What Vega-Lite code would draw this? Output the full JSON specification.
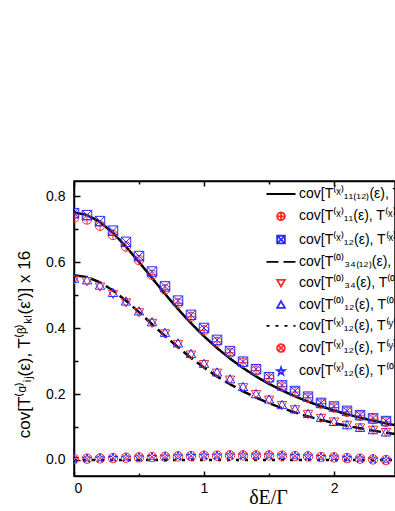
{
  "$schema": "https://vega.github.io/schema/vega-lite/v6.json",
  "width": 321,
  "height": 295,
  "autosize": {"type": "none"},
  "padding": {"left": 74, "top": 181, "right": 0, "bottom": 35},
  "background": "white",
  "config": {
    "font": "Liberation Sans",
    "view": {"stroke": "black", "strokeWidth": 1.5},
    "axis": {"grid": false, "domainColor": "black", "domainWidth": 1.5, "tickColor": "black", "tickWidth": 1.5, "labelColor": "black", "labelFont": "Liberation Sans", "labelFontSize": 14, "titleColor": "black", "titleFontWeight": "normal"},
    "legend": {"orient": "none", "legendX": 192, "legendY": 6, "padding": 0, "labelFont": "Liberation Sans", "labelFontSize": 14, "labelColor": "black", "labelLimit": 0, "symbolSize": 60, "symbolStrokeWidth": 1.8, "rowPadding": 7.3, "labelOffset": 11, "symbolOffset": 8}
  },
  "datasets": {
    "lines": [
      {"k": "a", "x": 0, "y": 0.75}, {"k": "a", "x": 0.1, "y": 0.7426}, {"k": "a", "x": 0.2, "y": 0.7212}, {"k": "a", "x": 0.3, "y": 0.6881}, {"k": "a", "x": 0.4, "y": 0.6466}, {"k": "a", "x": 0.5, "y": 0.6}, {"k": "a", "x": 0.6, "y": 0.5515}, {"k": "a", "x": 0.7, "y": 0.5034}, {"k": "a", "x": 0.8, "y": 0.4573}, {"k": "a", "x": 0.9, "y": 0.4144}, {"k": "a", "x": 1.0, "y": 0.375}, {"k": "a", "x": 1.1, "y": 0.3394}, {"k": "a", "x": 1.2, "y": 0.3074}, {"k": "a", "x": 1.3, "y": 0.2788}, {"k": "a", "x": 1.4, "y": 0.2534}, {"k": "a", "x": 1.5, "y": 0.2308}, {"k": "a", "x": 1.6, "y": 0.2107}, {"k": "a", "x": 1.7, "y": 0.1928}, {"k": "a", "x": 1.8, "y": 0.1769}, {"k": "a", "x": 1.9, "y": 0.1627}, {"k": "a", "x": 2.0, "y": 0.15}, {"k": "a", "x": 2.1, "y": 0.1386}, {"k": "a", "x": 2.2, "y": 0.1284}, {"k": "a", "x": 2.3, "y": 0.1192}, {"k": "a", "x": 2.4, "y": 0.1109}, {"k": "a", "x": 2.5, "y": 0.1034},
      {"k": "d", "x": 0, "y": 0.56}, {"k": "d", "x": 0.1, "y": 0.5545}, {"k": "d", "x": 0.2, "y": 0.5385}, {"k": "d", "x": 0.3, "y": 0.5138}, {"k": "d", "x": 0.4, "y": 0.4828}, {"k": "d", "x": 0.5, "y": 0.448}, {"k": "d", "x": 0.6, "y": 0.4118}, {"k": "d", "x": 0.7, "y": 0.3758}, {"k": "d", "x": 0.8, "y": 0.3415}, {"k": "d", "x": 0.9, "y": 0.3094}, {"k": "d", "x": 1.0, "y": 0.28}, {"k": "d", "x": 1.1, "y": 0.2534}, {"k": "d", "x": 1.2, "y": 0.2295}, {"k": "d", "x": 1.3, "y": 0.2082}, {"k": "d", "x": 1.4, "y": 0.1892}, {"k": "d", "x": 1.5, "y": 0.1723}, {"k": "d", "x": 1.6, "y": 0.1573}, {"k": "d", "x": 1.7, "y": 0.144}, {"k": "d", "x": 1.8, "y": 0.1321}, {"k": "d", "x": 1.9, "y": 0.1215}, {"k": "d", "x": 2.0, "y": 0.112}, {"k": "d", "x": 2.1, "y": 0.1035}, {"k": "d", "x": 2.2, "y": 0.0959}, {"k": "d", "x": 2.3, "y": 0.089}, {"k": "d", "x": 2.4, "y": 0.0828}, {"k": "d", "x": 2.5, "y": 0.0772},
      {"k": "g", "x": 0, "y": 0.0}, {"k": "g", "x": 1.0, "y": 0.0}, {"k": "g", "x": 2.0, "y": 0.0}, {"k": "g", "x": 2.5, "y": 0.0}
    ],
    "pts": [
      {"k": "b", "x": 0, "y": 0.734}, {"k": "b", "x": 0.1, "y": 0.729}, {"k": "b", "x": 0.2, "y": 0.71}, {"k": "b", "x": 0.3, "y": 0.682}, {"k": "b", "x": 0.4, "y": 0.647}, {"k": "b", "x": 0.5, "y": 0.606}, {"k": "b", "x": 0.6, "y": 0.561}, {"k": "b", "x": 0.7, "y": 0.517}, {"k": "b", "x": 0.8, "y": 0.475}, {"k": "b", "x": 0.9, "y": 0.434}, {"k": "b", "x": 1.0, "y": 0.393}, {"k": "b", "x": 1.1, "y": 0.358}, {"k": "b", "x": 1.2, "y": 0.325}, {"k": "b", "x": 1.3, "y": 0.295}, {"k": "b", "x": 1.4, "y": 0.271}, {"k": "b", "x": 1.5, "y": 0.247}, {"k": "b", "x": 1.6, "y": 0.223}, {"k": "b", "x": 1.7, "y": 0.206}, {"k": "b", "x": 1.8, "y": 0.189}, {"k": "b", "x": 1.9, "y": 0.171}, {"k": "b", "x": 2.0, "y": 0.159}, {"k": "b", "x": 2.1, "y": 0.146}, {"k": "b", "x": 2.2, "y": 0.134}, {"k": "b", "x": 2.3, "y": 0.124}, {"k": "b", "x": 2.4, "y": 0.116},
      {"k": "c", "x": 0, "y": 0.748}, {"k": "c", "x": 0.1, "y": 0.742}, {"k": "c", "x": 0.2, "y": 0.724}, {"k": "c", "x": 0.3, "y": 0.695}, {"k": "c", "x": 0.4, "y": 0.661}, {"k": "c", "x": 0.5, "y": 0.618}, {"k": "c", "x": 0.6, "y": 0.571}, {"k": "c", "x": 0.7, "y": 0.526}, {"k": "c", "x": 0.8, "y": 0.483}, {"k": "c", "x": 0.9, "y": 0.44}, {"k": "c", "x": 1.0, "y": 0.4}, {"k": "c", "x": 1.1, "y": 0.364}, {"k": "c", "x": 1.2, "y": 0.33}, {"k": "c", "x": 1.3, "y": 0.298}, {"k": "c", "x": 1.4, "y": 0.275}, {"k": "c", "x": 1.5, "y": 0.251}, {"k": "c", "x": 1.6, "y": 0.226}, {"k": "c", "x": 1.7, "y": 0.209}, {"k": "c", "x": 1.8, "y": 0.192}, {"k": "c", "x": 1.9, "y": 0.173}, {"k": "c", "x": 2.0, "y": 0.162}, {"k": "c", "x": 2.1, "y": 0.149}, {"k": "c", "x": 2.2, "y": 0.136}, {"k": "c", "x": 2.3, "y": 0.126}, {"k": "c", "x": 2.4, "y": 0.118},
      {"k": "e", "x": 0, "y": 0.545}, {"k": "e", "x": 0.1, "y": 0.54}, {"k": "e", "x": 0.2, "y": 0.524}, {"k": "e", "x": 0.3, "y": 0.502}, {"k": "e", "x": 0.4, "y": 0.476}, {"k": "e", "x": 0.5, "y": 0.446}, {"k": "e", "x": 0.6, "y": 0.414}, {"k": "e", "x": 0.7, "y": 0.382}, {"k": "e", "x": 0.8, "y": 0.35}, {"k": "e", "x": 0.9, "y": 0.318}, {"k": "e", "x": 1.0, "y": 0.289}, {"k": "e", "x": 1.1, "y": 0.263}, {"k": "e", "x": 1.2, "y": 0.242}, {"k": "e", "x": 1.3, "y": 0.219}, {"k": "e", "x": 1.4, "y": 0.198}, {"k": "e", "x": 1.5, "y": 0.181}, {"k": "e", "x": 1.6, "y": 0.165}, {"k": "e", "x": 1.7, "y": 0.152}, {"k": "e", "x": 1.8, "y": 0.138}, {"k": "e", "x": 1.9, "y": 0.126}, {"k": "e", "x": 2.0, "y": 0.115}, {"k": "e", "x": 2.1, "y": 0.105}, {"k": "e", "x": 2.2, "y": 0.097}, {"k": "e", "x": 2.3, "y": 0.09}, {"k": "e", "x": 2.4, "y": 0.083},
      {"k": "f", "x": 0, "y": 0.551}, {"k": "f", "x": 0.1, "y": 0.546}, {"k": "f", "x": 0.2, "y": 0.53}, {"k": "f", "x": 0.3, "y": 0.508}, {"k": "f", "x": 0.4, "y": 0.482}, {"k": "f", "x": 0.5, "y": 0.452}, {"k": "f", "x": 0.6, "y": 0.419}, {"k": "f", "x": 0.7, "y": 0.387}, {"k": "f", "x": 0.8, "y": 0.355}, {"k": "f", "x": 0.9, "y": 0.323}, {"k": "f", "x": 1.0, "y": 0.293}, {"k": "f", "x": 1.1, "y": 0.267}, {"k": "f", "x": 1.2, "y": 0.246}, {"k": "f", "x": 1.3, "y": 0.223}, {"k": "f", "x": 1.4, "y": 0.201}, {"k": "f", "x": 1.5, "y": 0.185}, {"k": "f", "x": 1.6, "y": 0.168}, {"k": "f", "x": 1.7, "y": 0.155}, {"k": "f", "x": 1.8, "y": 0.141}, {"k": "f", "x": 1.9, "y": 0.129}, {"k": "f", "x": 2.0, "y": 0.117}, {"k": "f", "x": 2.1, "y": 0.107}, {"k": "f", "x": 2.2, "y": 0.099}, {"k": "f", "x": 2.3, "y": 0.092}, {"k": "f", "x": 2.4, "y": 0.085},
      {"k": "h", "x": 0, "y": 0.003}, {"k": "h", "x": 0.1, "y": 0.004}, {"k": "h", "x": 0.2, "y": 0.005}, {"k": "h", "x": 0.3, "y": 0.006}, {"k": "h", "x": 0.4, "y": 0.007}, {"k": "h", "x": 0.5, "y": 0.008}, {"k": "h", "x": 0.6, "y": 0.009}, {"k": "h", "x": 0.7, "y": 0.01}, {"k": "h", "x": 0.8, "y": 0.011}, {"k": "h", "x": 0.9, "y": 0.012}, {"k": "h", "x": 1.0, "y": 0.013}, {"k": "h", "x": 1.1, "y": 0.013}, {"k": "h", "x": 1.2, "y": 0.014}, {"k": "h", "x": 1.3, "y": 0.014}, {"k": "h", "x": 1.4, "y": 0.014}, {"k": "h", "x": 1.5, "y": 0.014}, {"k": "h", "x": 1.6, "y": 0.013}, {"k": "h", "x": 1.7, "y": 0.012}, {"k": "h", "x": 1.8, "y": 0.011}, {"k": "h", "x": 1.9, "y": 0.009}, {"k": "h", "x": 2.0, "y": 0.008}, {"k": "h", "x": 2.1, "y": 0.006}, {"k": "h", "x": 2.2, "y": 0.004}, {"k": "h", "x": 2.3, "y": 0.002}, {"k": "h", "x": 2.4, "y": 0.0},
      {"k": "i", "x": 0, "y": 0.003}, {"k": "i", "x": 0.1, "y": 0.004}, {"k": "i", "x": 0.2, "y": 0.005}, {"k": "i", "x": 0.3, "y": 0.006}, {"k": "i", "x": 0.4, "y": 0.007}, {"k": "i", "x": 0.5, "y": 0.008}, {"k": "i", "x": 0.6, "y": 0.009}, {"k": "i", "x": 0.7, "y": 0.01}, {"k": "i", "x": 0.8, "y": 0.011}, {"k": "i", "x": 0.9, "y": 0.012}, {"k": "i", "x": 1.0, "y": 0.013}, {"k": "i", "x": 1.1, "y": 0.013}, {"k": "i", "x": 1.2, "y": 0.014}, {"k": "i", "x": 1.3, "y": 0.014}, {"k": "i", "x": 1.4, "y": 0.014}, {"k": "i", "x": 1.5, "y": 0.014}, {"k": "i", "x": 1.6, "y": 0.013}, {"k": "i", "x": 1.7, "y": 0.012}, {"k": "i", "x": 1.8, "y": 0.011}, {"k": "i", "x": 1.9, "y": 0.009}, {"k": "i", "x": 2.0, "y": 0.008}, {"k": "i", "x": 2.1, "y": 0.006}, {"k": "i", "x": 2.2, "y": 0.004}, {"k": "i", "x": 2.3, "y": 0.002}, {"k": "i", "x": 2.4, "y": 0.0}
    ]
  },
  "resolve": {"axis": {"x": "independent", "y": "independent"}},
  "layer": [
    {
      "data": {"name": "lines"},
      "mark": {"type": "line", "clip": true, "strokeWidth": 2.5},
      "encoding": {
        "x": {"field": "x", "type": "quantitative", "scale": {"domain": [0, 2.469], "nice": false, "zero": false},
          "axis": {"orient": "bottom", "values": [0, 0.5, 1, 1.5, 2], "labelExpr": "datum.value % 1 === 0 ? format(datum.value, 'd') : ''", "tickSize": {"condition": {"test": "datum.value % 1 === 0", "value": -5}, "value": -3}, "labelPadding": 10, "title": "δE/Γ", "titleFont": "Liberation Serif", "titleFontSize": 20, "titleX": 194, "titleY": 27, "titleBaseline": "alphabetic", "titleAlign": "center"}},
        "y": {"field": "y", "type": "quantitative", "scale": {"domain": [-0.0485, 0.8455], "nice": false, "zero": false},
          "axis": {"orient": "left", "values": [0, 0.1, 0.2, 0.3, 0.4, 0.5, 0.6, 0.7, 0.8], "labelExpr": "round(datum.value * 10) % 2 === 0 ? format(datum.value, '.1f') : ''", "tickSize": {"condition": {"test": "round(datum.value * 10) % 2 === 0", "value": -6}, "value": -4}, "labelPadding": 15, "title": "cov[T⁽ᵅ⁾ᵢⱼ(ε), T⁽ᵝ⁾ₖₗ(ε′)] x 16", "titleFontSize": 17, "titleX": -50, "titleY": 163, "titleAngle": -90, "titleBaseline": "middle", "titleAlign": "center"}},
        "color": {"field": "k", "type": "nominal", "scale": {"domain": ["a", "b", "c", "d", "e", "f", "g", "h", "i"], "range": ["#000000", "#ff2b2b", "#2b2bff", "#000000", "#ff2b2b", "#2b2bff", "#000000", "#ff2b2b", "#2b2bff"]},
          "legend": {"title": null, "labelExpr": "['cov[T⁽ˣ⁾₁₁₍₁₂₎(ε), T⁽ˣ⁾₁₁₍₁₂₎(ε′)]', 'cov[T⁽ˣ⁾₁₁(ε), T⁽ˣ⁾₁₁(ε′)]', 'cov[T⁽ˣ⁾₁₂(ε), T⁽ˣ⁾₁₂(ε′)]', 'cov[T⁽⁰⁾₃₄₍₁₂₎(ε), T⁽⁰⁾₃₄₍₁₂₎(ε′)]', 'cov[T⁽⁰⁾₃₄(ε), T⁽⁰⁾₃₄(ε′)]', 'cov[T⁽⁰⁾₁₂(ε), T⁽⁰⁾₁₂(ε′)]', 'cov[T⁽ˣ⁾₁₂(ε), T⁽ʸ⁽⁰⁾⁾₁₂(ε′)]', 'cov[T⁽ˣ⁾₁₂(ε), T⁽ʸ⁾₁₂(ε′)]', 'cov[T⁽ˣ⁾₁₂(ε), T⁽⁰⁾₃₄(ε′)]'][indexof(['a','b','c','d','e','f','g','h','i'], datum.value)]"}},
        "strokeDash": {"field": "k", "type": "nominal", "scale": {"domain": ["a", "b", "c", "d", "e", "f", "g", "h", "i"], "range": [[1, 0], [1, 0], [1, 0], [12, 5], [1, 0], [1, 0], [3, 6], [1, 0], [1, 0]]},
          "legend": {"title": null}}
      }
    },
    {
      "data": {"name": "pts"},
      "mark": {"type": "point", "filled": false, "size": 90, "strokeWidth": 1, "clip": true, "opacity": 1},
      "encoding": {
        "x": {"field": "x", "type": "quantitative", "axis": {"orient": "top", "values": [0, 0.5, 1, 1.5, 2], "labels": false, "title": null, "tickSize": {"condition": {"test": "datum.value % 1 === 0", "value": -5}, "value": -3}}},
        "y": {"field": "y", "type": "quantitative", "axis": null},
        "color": {"field": "k", "type": "nominal", "legend": {"title": null}},
        "shape": {"field": "k", "type": "nominal", "scale": {"domain": ["a", "b", "c", "d", "e", "f", "g", "h", "i"], "range": ["M-3.75,0H3.75", "M-1,0A1,1,0,1,0,1,0A1,1,0,1,0,-1,0ZM-1,0H1M0,-1V1", "M-1,-1H1V1H-1ZM-1,-1L1,1M-1,1L1,-1", "M-3.75,0H3.75", "triangle-down", "triangle-up", "M-3.75,0H3.75", "M-1,0A1,1,0,1,0,1,0A1,1,0,1,0,-1,0ZM-0.707,-0.707L0.707,0.707M-0.707,0.707L0.707,-0.707", "M0,-1L0.235,-0.324L0.951,-0.309L0.38,0.124L0.588,0.809L0,0.4L-0.588,0.809L-0.38,0.124L-0.951,-0.309L-0.235,-0.324Z"]},
          "legend": {"title": null}}
      }
    }
  ]
}
